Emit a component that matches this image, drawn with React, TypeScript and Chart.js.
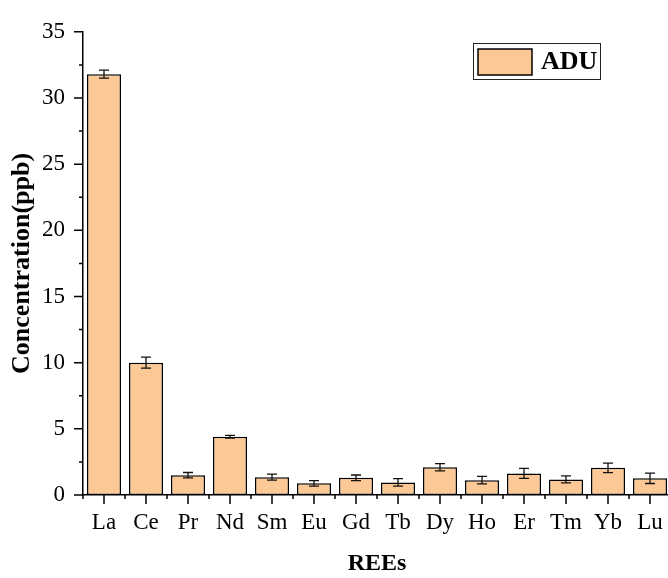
import React, { useEffect, useRef } from "react";
import { Chart, registerables } from "chart.js";

Chart.register(...registerables);

const categories = ["La", "Ce", "Pr", "Nd", "Sm", "Eu", "Gd", "Tb", "Dy", "Ho", "Er", "Tm", "Yb", "Lu"];
const values = [31.8, 10.0, 1.5, 4.4, 1.35, 0.88, 1.3, 0.95, 2.1, 1.12, 1.63, 1.18, 2.05, 1.26];
const errors = [0.3, 0.42, 0.2, 0.1, 0.22, 0.21, 0.21, 0.28, 0.27, 0.28, 0.38, 0.27, 0.36, 0.39];
const seriesLabel = "ADU";
const yTicks = [0, 5, 10, 15, 20, 25, 30, 35];

const FONT = '"Liberation Serif", "Times New Roman", serif';
const BAR_COLOR = "#FCC996";

const errorBarPlugin = {
  id: "errorBars",
  afterDatasetsDraw(chart: any) {
    const ctx = chart.ctx;
    const xs = chart.scales.x;
    const ys = chart.scales.y;
    ctx.save();
    ctx.strokeStyle = "#111";
    ctx.lineWidth = 1.3;
    values.forEach((v, i) => {
      const x = xs.getPixelForValue(i);
      const yt = ys.getPixelForValue(v + errors[i]);
      const yb = ys.getPixelForValue(v - errors[i]);
      ctx.beginPath();
      ctx.moveTo(x, yt);
      ctx.lineTo(x, yb);
      ctx.moveTo(x - 5, yt);
      ctx.lineTo(x + 5, yt);
      ctx.moveTo(x - 5, yb);
      ctx.lineTo(x + 5, yb);
      ctx.stroke();
    });
    ctx.restore();
  },
};

const tickPlugin = {
  id: "axisTicks",
  afterDraw(chart: any) {
    const ctx = chart.ctx;
    const xs = chart.scales.x;
    const ys = chart.scales.y;
    const area = chart.chartArea;
    ctx.save();
    ctx.strokeStyle = "#000";
    ctx.lineWidth = 1.5;
    ctx.beginPath();
    for (let k = 0; k < yTicks.length; k++) {
      const y = ys.getPixelForValue(yTicks[k]);
      ctx.moveTo(area.left, y);
      ctx.lineTo(area.left - 9, y);
      if (k < yTicks.length - 1) {
        const ym = ys.getPixelForValue((yTicks[k] + yTicks[k + 1]) / 2);
        ctx.moveTo(area.left, ym);
        ctx.lineTo(area.left - 4, ym);
      }
    }
    for (let i = 0; i < categories.length; i++) {
      const x = xs.getPixelForValue(i);
      ctx.moveTo(x, area.bottom);
      ctx.lineTo(x, area.bottom + 9);
    }
    for (let i = 0; i <= categories.length; i++) {
      const x = xs.getPixelForValue(i - 0.5);
      ctx.moveTo(x, area.bottom);
      ctx.lineTo(x, area.bottom + 4);
    }
    ctx.stroke();
    ctx.restore();
  },
};

const legendPlugin = {
  id: "boxLegend",
  afterDraw(chart: any) {
    const ctx = chart.ctx;
    const bx = 473, by = 43, bw = 127, bh = 36;
    ctx.save();
    ctx.fillStyle = "#fff";
    ctx.fillRect(bx, by, bw, bh);
    ctx.strokeStyle = "#222";
    ctx.lineWidth = 1;
    ctx.strokeRect(bx + 0.5, by + 0.5, bw, bh);
    ctx.fillStyle = BAR_COLOR;
    ctx.fillRect(478, 49, 54, 26);
    ctx.strokeStyle = "#000";
    ctx.lineWidth = 1.5;
    ctx.strokeRect(478, 49, 54, 26);
    ctx.fillStyle = "#000";
    ctx.font = `bold 26px ${FONT}`;
    ctx.textBaseline = "middle";
    ctx.textAlign = "left";
    ctx.fillText(seriesLabel, 541, 62);
    ctx.restore();
  },
};

export default function App() {
  const ref = useRef<HTMLCanvasElement | null>(null);
  useEffect(() => {
    if (!ref.current) return;
    const chart = new Chart(ref.current, {
      type: "bar",
      data: {
        labels: categories,
        datasets: [
          {
            label: seriesLabel,
            data: values,
            backgroundColor: BAR_COLOR,
            borderColor: "#000",
            borderWidth: 1.5,
            borderSkipped: false,
            categoryPercentage: 1,
            barPercentage: 0.81,
          },
        ],
      },
      options: {
        animation: false,
        responsive: false,
        layout: { padding: { top: 23, right: 9, left: 0, bottom: 0 } },
        plugins: { legend: { display: false }, tooltip: { enabled: false } },
        scales: {
          x: {
            grid: { display: false, drawTicks: false },
            border: { display: true, color: "#000", width: 1.5 },
            ticks: { color: "#000", font: { family: FONT, size: 23 }, padding: 14, maxRotation: 0, autoSkip: false },
            title: {
              display: true,
              text: "REEs",
              color: "#000",
              font: { family: FONT, size: 24, weight: "bold" },
              padding: { top: 0, bottom: 0 },
            },
            afterFit(s: any) {
              s.height = 83;
            },
          },
          y: {
            min: 0,
            max: 35,
            grid: { display: false, drawTicks: false },
            border: { display: true, color: "#000", width: 1.5 },
            ticks: { stepSize: 5, color: "#000", font: { family: FONT, size: 23 }, padding: 18 },
            title: {
              display: true,
              text: "Concentration(ppb)",
              color: "#000",
              font: { family: FONT, size: 26, weight: "bold" },
              padding: { top: 7, bottom: 0 },
            },
            afterFit(s: any) {
              s.width = 83;
            },
          },
        },
      },
      plugins: [errorBarPlugin, tickPlugin, legendPlugin],
    });
    return () => chart.destroy();
  }, []);
  return (
    <div style={{ position: "absolute", left: 0, top: 0, width: 668, height: 578, overflow: "hidden", background: "#fff" }}>
      <canvas ref={ref} width={680} height={578} style={{ display: "block" }} />
    </div>
  );
}
